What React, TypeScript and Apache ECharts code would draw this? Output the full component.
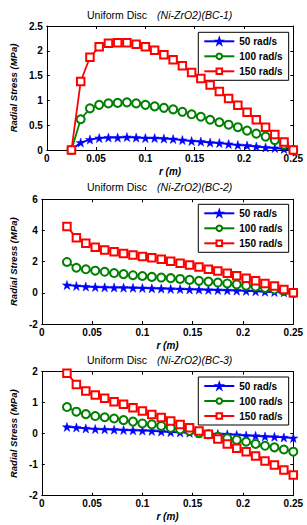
import React, { useEffect, useRef } from "react";
import * as echarts from "echarts";

const radius = [
  0.025, 0.034375, 0.04375, 0.053125, 0.0625, 0.071875, 0.08125, 0.090625, 0.1,
  0.109375, 0.11875, 0.128125, 0.1375, 0.146875, 0.15625, 0.165625, 0.175,
  0.184375, 0.19375, 0.203125, 0.2125, 0.221875, 0.23125, 0.240625, 0.25,
];

const seriesNames = ["50 rad/s", "100 rad/s", "150 rad/s"];
const titles = ["(Ni-ZrO2)(BC-1)", "(Ni-ZrO2)(BC-2)", "(Ni-ZrO2)(BC-3)"];

// BC-1
const bc1_50 = [0, 0.15, 0.21, 0.24, 0.25, 0.25, 0.26, 0.25, 0.24, 0.24, 0.23, 0.22, 0.2, 0.18, 0.17, 0.15, 0.14, 0.12, 0.1, 0.09, 0.07, 0.05, 0.04, 0.02, 0];
const bc1_100 = [0, 0.62, 0.84, 0.91, 0.94, 0.95, 0.96, 0.94, 0.91, 0.88, 0.85, 0.82, 0.77, 0.72, 0.67, 0.61, 0.56, 0.51, 0.46, 0.39, 0.33, 0.27, 0.2, 0.11, 0];
const bc1_150 = [0, 1.38, 1.87, 2.08, 2.15, 2.16, 2.16, 2.13, 2.08, 2.01, 1.92, 1.82, 1.7, 1.56, 1.44, 1.31, 1.18, 1.04, 0.9, 0.76, 0.61, 0.46, 0.31, 0.16, 0];
// BC-2
const bc2_50 = [0.5, 0.44, 0.4, 0.37, 0.35, 0.34, 0.33, 0.32, 0.31, 0.29, 0.27, 0.25, 0.24, 0.22, 0.21, 0.19, 0.18, 0.16, 0.14, 0.12, 0.1, 0.07, 0.05, 0.03, 0];
const bc2_100 = [1.98, 1.61, 1.51, 1.42, 1.35, 1.27, 1.2, 1.13, 1.08, 1.02, 0.98, 0.94, 0.89, 0.83, 0.77, 0.72, 0.66, 0.6, 0.54, 0.46, 0.39, 0.31, 0.22, 0.12, 0];
const bc2_150 = [4.25, 3.54, 3.18, 2.92, 2.75, 2.64, 2.53, 2.43, 2.33, 2.25, 2.15, 2.03, 1.9, 1.78, 1.65, 1.52, 1.4, 1.25, 1.09, 0.93, 0.77, 0.6, 0.43, 0.22, 0];
// BC-3
const bc3_50 = [0.22, 0.2, 0.17, 0.15, 0.14, 0.13, 0.12, 0.11, 0.1, 0.09, 0.07, 0.05, 0.04, 0.03, 0.02, 0, -0.01, -0.02, -0.04, -0.06, -0.07, -0.09, -0.1, -0.12, -0.14];
const bc3_100 = [0.86, 0.71, 0.63, 0.57, 0.53, 0.49, 0.44, 0.39, 0.33, 0.3, 0.25, 0.19, 0.14, 0.09, 0.02, -0.02, -0.1, -0.15, -0.2, -0.26, -0.33, -0.39, -0.44, -0.51, -0.58];
const bc3_150 = [1.95, 1.59, 1.38, 1.25, 1.14, 1.03, 0.95, 0.84, 0.73, 0.62, 0.52, 0.41, 0.3, 0.19, 0.09, -0.02, -0.17, -0.33, -0.47, -0.58, -0.72, -0.88, -1.01, -1.17, -1.33];

const panels = [
  { values: [bc1_50, bc1_100, bc1_150], yMin: 0, yMax: 2.5, yStep: 0.5 },
  { values: [bc2_50, bc2_100, bc2_150], yMin: -2, yMax: 6, yStep: 2 },
  { values: [bc3_50, bc3_100, bc3_150], yMin: -2, yMax: 2, yStep: 1 },
];

const FONT = "'Liberation Sans', Arial, Helvetica, sans-serif";
const colors = ["#0000ff", "#008000", "#ff0000"];
const STAR = "path://M50,0 L61.8,34.5 L97.6,34.5 L68.7,55.9 L79.4,90.5 L50,69.1 L20.6,90.5 L31.3,55.9 L2.4,34.5 L38.2,34.5 Z";
const gridTops = [26, 199.3, 371.7];
const gridHeights = [124, 124.7, 124];
const titleTops = [9, 181, 354];
const legendTops = [32.3, 204.3, 377];

export default function App() {
  const ref = useRef<HTMLDivElement>(null);
  useEffect(() => {
    if (!ref.current) return;
    const chart = echarts.init(ref.current, undefined, { renderer: "svg" });
    const grids: any[] = [];
    const xAxes: any[] = [];
    const yAxes: any[] = [];
    const series: any[] = [];
    const title: any[] = [];
    const legend: any[] = [];
    const tick = { show: true, inside: true, length: 3, lineStyle: { color: "#000", width: 1 } };
    const line = { show: true, onZero: false, lineStyle: { color: "#000", width: 1 } };
    panels.forEach((p, g) => {
      grids.push({ left: 32.3, top: gridTops[g], width: 261, height: gridHeights[g], containLabel: false });
      xAxes.push({
        gridIndex: g, type: "value", min: 0, max: 0.25, interval: 0.05, position: "bottom",
        axisLine: line, axisTick: tick, splitLine: { show: false },
        axisLabel: {
          color: "#000", fontFamily: FONT, fontSize: 10, fontWeight: "bold", margin: 3,
          formatter: (v: number) => String(parseFloat(v.toFixed(2))),
        },
        name: "r (m)", nameLocation: "middle", nameGap: 16,
        nameTextStyle: { color: "#000", fontFamily: FONT, fontSize: 10, fontWeight: "bold", fontStyle: "italic", verticalAlign: "top" },
      });
      xAxes.push({
        gridIndex: g, type: "value", min: 0, max: 0.25, interval: 0.05, position: "top",
        axisLine: line, axisTick: tick, axisLabel: { show: false }, splitLine: { show: false },
      });
      yAxes.push({
        gridIndex: g, type: "value", min: p.yMin, max: p.yMax, interval: p.yStep, position: "left",
        axisLine: line, axisTick: tick, splitLine: { show: false },
        axisLabel: { color: "#000", fontFamily: FONT, fontSize: 10, fontWeight: "bold", margin: 4 },
        name: "Radial Stress (MPa)", nameLocation: "middle", nameGap: 21,
        nameTextStyle: { color: "#000", fontFamily: FONT, fontSize: 9.5, fontWeight: "bold", fontStyle: "italic" },
      });
      yAxes.push({
        gridIndex: g, type: "value", min: p.yMin, max: p.yMax, interval: p.yStep, position: "right",
        axisLine: line, axisTick: tick, axisLabel: { show: false }, splitLine: { show: false },
      });
      p.values.forEach((vals, s) => {
        const sym = s === 0 ? STAR : s === 1 ? "emptyCircle" : "emptyRect";
        series.push({
          type: "line", name: seriesNames[s], xAxisIndex: g * 2, yAxisIndex: g * 2,
          data: radius.map((r, i) => [r, vals[i]]),
          symbol: sym, symbolSize: s === 0 ? 9 : s === 1 ? 8 : 7.5,
          showAllSymbol: true,
          color: colors[s],
          lineStyle: { color: colors[s], width: 1.8 },
          itemStyle: { color: colors[s], borderColor: colors[s], borderWidth: s === 0 ? 0.5 : 1.4 },
          emphasis: { disabled: true },
          z: 2 + s,
        });
      });
      title.push({
        text: "{a|Uniform Disc}{b|" + titles[g] + "}",
        left: 87, top: titleTops[g], padding: 0,
        textStyle: {
          fontWeight: "normal",
          rich: {
            a: { fontFamily: FONT, fontSize: 10.5, color: "#000", fontWeight: "normal" },
            b: { fontFamily: FONT, fontSize: 10.5, color: "#000", fontWeight: "normal", fontStyle: "italic", padding: [0, 0, 0, 10] },
          },
        },
      });
      legend.push({
        data: seriesNames, orient: "vertical", left: 198.3, top: legendTops[g],
        itemWidth: 30, itemHeight: 7, itemGap: 5, padding: [4, 6, 4, 5],
        borderColor: "#000", borderWidth: 1, backgroundColor: "#fff",
        selectedMode: false,
        textStyle: { color: "#000", fontFamily: FONT, fontSize: 10, fontWeight: "bold", lineHeight: 10 },
      });
    });
    chart.setOption({
      animation: false,
      backgroundColor: "#fff",
      title, legend, grid: grids, xAxis: xAxes, yAxis: yAxes, series,
    });
    return () => chart.dispose();
  }, []);
  return (
    <div
      ref={ref}
      style={{ position: "absolute", left: 0, top: 0, width: 307, height: 525, background: "#fff" }}
    />
  );
}
